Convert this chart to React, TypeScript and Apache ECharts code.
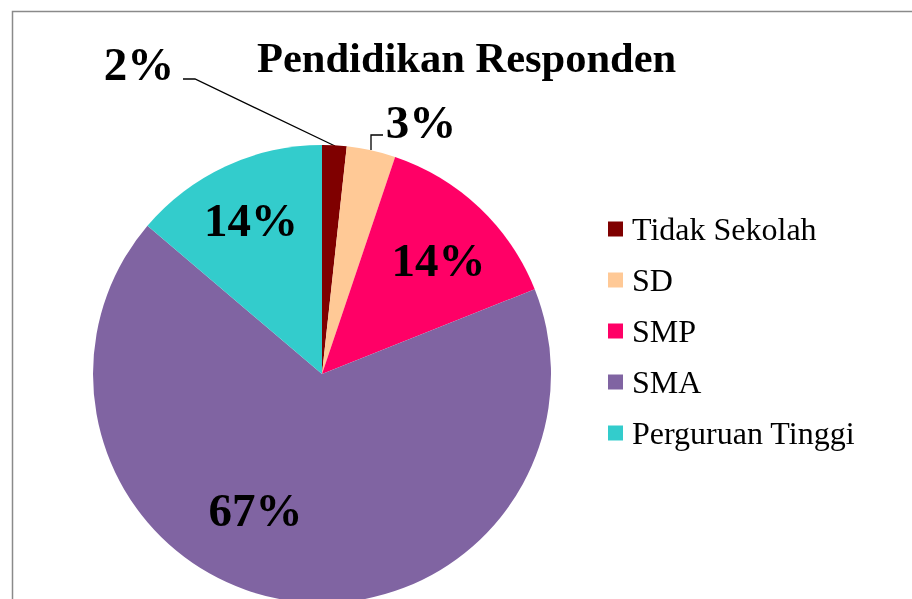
import React, { useEffect, useRef } from "react";
import * as echarts from "echarts";

const categories = ["Tidak Sekolah", "SD", "SMP", "SMA", "Perguruan Tinggi"];
const counts = [1, 2, 8, 39, 8];
const colors = ["#7F0000", "#FFC996", "#FF0066", "#8064A2", "#33CCCC"];
const titleText = "Pendidikan Responden";

// label placement (pixels), styling only
const labelPlacement = [
  { x: 139, y: 64, line: [[335, 146], [195, 79], [183, 79]] },
  { x: 421, y: 122, line: [[371, 150], [371, 135], [383, 135]] },
  { x: 438.5, y: 260 },
  { x: 255.5, y: 510 },
  { x: 251, y: 220 },
];

export default function App() {
  const ref = useRef<HTMLDivElement>(null);
  useEffect(() => {
    if (!ref.current) return;
    const chart = echarts.init(ref.current, undefined, { renderer: "svg" });
    const serif = "'Liberation Serif', 'Times New Roman', serif";
    chart.setOption({
      animation: false,
      color: colors,
      title: {
        text: titleText,
        left: 252,
        top: 31,
        textStyle: {
          fontFamily: serif,
          fontWeight: "bold",
          fontSize: 42.5,
          lineHeight: 43,
          color: "#000",
        },
      },
      legend: {
        orient: "vertical",
        left: 603,
        top: 208,
        itemWidth: 15,
        itemHeight: 15,
        itemGap: 19,
        icon: "rect",
        selectedMode: false,
        data: categories,
        textStyle: {
          fontFamily: serif,
          fontSize: 32,
          lineHeight: 32,
          color: "#000",
          padding: [0, 0, 0, 4],
        },
      },
      graphic: [
        {
          type: "rect",
          shape: { x: 12.5, y: 11.5, width: 1000, height: 700 },
          style: { fill: "none", stroke: "#8a8a8a", lineWidth: 1.5 },
          silent: true,
        },
      ],
      series: [
        {
          type: "pie",
          center: [322, 374],
          radius: [0, 229],
          startAngle: 90,
          clockwise: true,
          percentPrecision: 0,
          itemStyle: { borderWidth: 0 },
          emphasis: { disabled: true },
          label: {
            show: true,
            position: "outside",
            formatter: "{d}%",
            fontFamily: serif,
            fontWeight: "bold",
            fontSize: 47,
            color: "#000",
          },
          labelLine: {
            show: true,
            lineStyle: { color: "#000", width: 1.3 },
          },
          labelLayout: (params: any) => {
            const p = labelPlacement[params.dataIndex];
            const out: any = {
              x: p.x,
              y: p.y,
              align: "center",
              verticalAlign: "middle",
            };
            if (p.line) out.labelLinePoints = p.line;
            return out;
          },
          data: categories.map((name, i) => ({
            name,
            value: counts[i],
            labelLine: { show: i < 2 },
          })),
        },
      ],
    });
    return () => chart.dispose();
  }, []);
  return (
    <div
      ref={ref}
      style={{ position: "fixed", left: 0, top: 0, width: 912, height: 599 }}
    />
  );
}
